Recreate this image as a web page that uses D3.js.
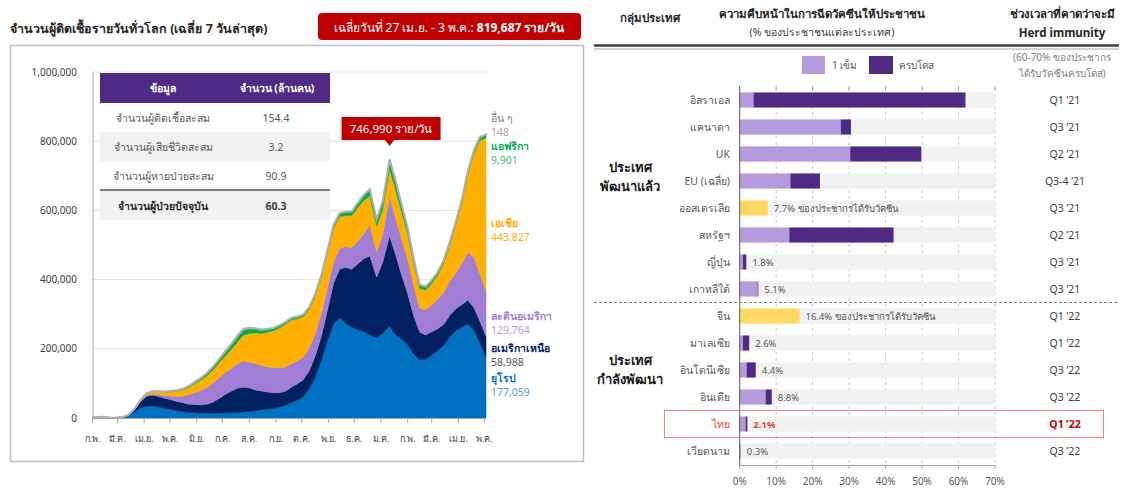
<!DOCTYPE html>
<html>
<head>
<meta charset="utf-8">
<script src="https://cdn.jsdelivr.net/npm/d3@7"></script>
<style>
  body { margin: 0; background: #fff; }
  svg { font-family: "Noto Sans", Tahoma, sans-serif; }
</style>
</head>
<body>
<svg id="chart" width="1124" height="489"></svg>
<script>
// ---- data: global daily cases, 7-day average (thousand cases/day) ----
const dates = [
  "2020-02-01","2020-02-08","2020-02-15","2020-02-22","2020-02-29","2020-03-07","2020-03-14","2020-03-21",
  "2020-03-28","2020-04-04","2020-04-11","2020-04-18","2020-04-25","2020-05-02","2020-05-09","2020-05-16",
  "2020-05-23","2020-05-30","2020-06-06","2020-06-13","2020-06-20","2020-06-27","2020-07-04","2020-07-11",
  "2020-07-18","2020-07-25","2020-08-01","2020-08-08","2020-08-15","2020-08-22","2020-08-29","2020-09-05",
  "2020-09-12","2020-09-19","2020-09-26","2020-10-03","2020-10-10","2020-10-17","2020-10-24","2020-10-31",
  "2020-11-07","2020-11-14","2020-11-21","2020-11-28","2020-12-05","2020-12-12","2020-12-19","2020-12-27",
  "2021-01-03","2021-01-11","2021-01-18","2021-01-25","2021-02-01","2021-02-08","2021-02-15","2021-02-22",
  "2021-03-01","2021-03-08","2021-03-15","2021-03-22","2021-03-29","2021-04-05","2021-04-12","2021-04-19",
  "2021-04-26","2021-05-03"
];
const europe = [0,0,0,0,0.2,1.5,7,18, 30,34,35,32,28,25,21,19, 16,15,14,14,14,14,15,15, 16,17,19,21,24,26,28,31,
  37,45,52,62,85,120,168,225, 272,290,275,262,255,250,240,232, 245,265,240,228,212,185,168,170,
  182,195,210,235,252,262,272,252, 216,177.059];
const northAmerica = [0,0,0,0,0,0.1,1,6, 18,29,31,30,29,28,27,25, 24,24,24,26,32,42,53,62, 70,72,68,60,54,49,45,42,
  40,44,47,49,53,61,70,88, 118,140,160,168,190,210,228,175, 205,262,232,185,148,110,80,70,
  67,63,61,62,64,66,68,67, 63,58.988];
const latinAmerica = [0,0,0,0,0,0,0.1,0.5, 1.5,2.5,3.5,5,7,10,14,20, 27,35,42,48,55,60,63,66, 70,76,75,77,74,73,72,72,
  70,68,66,66,65,65,66,64, 62,60,60,62,66,72,90,73, 80,113,106,104,100,88,70,72,
  78,85,92,98,103,118,140,145, 138,129.764];
const asia = [2,3,3.5,1,1,1.5,1.5,2, 3.5,5,7,9,11,13,15,17, 21,25,30,34,38,43,48,55, 63,74,82,88,92,100,107,115,
  124,126,122,116,112,108,104,101, 97,92,90,93,97,96,84,74, 72,80,82,78,72,64,56,58,
  62,70,85,105,140,175,225,300, 385,443.827];
const africa = [0,0,0,0,0,0,0.1,0.3, 0.5,0.8,1,1.3,1.8,2.3,3,3.5, 4.5,5.5,6.5,8,9.5,11,13,15, 17,17,16,13,11,9,8,7.5,
  7,6.5,6.5,6.5,6.5,7,7.5,8, 9,10,11,12,14,16,19,20, 24,26.8,26,22,18,14,11,10,
  9.5,9,9,9,9.5,10,10,10.5, 10,9.901];
const others = [0,0,0,0,0,0,0.1,0.2, 0.4,0.4,0.3,0.2,0.1,0.1,0.1,0.1, 0.1,0.1,0.1,0.1,0.1,0.1,0.2,0.3, 0.4,0.5,0.6,0.6,0.5,0.4,0.3,0.2,
  0.1,0.1,0.1,0.1,0.1,0.1,0.1,0.1, 0.1,0.1,0.1,0.1,0.1,0.1,0.1,0.1, 0.1,0.19,0.1,0.1,0.1,0.1,0.1,0.1,
  0.1,0.1,0.1,0.1,0.1,0.1,0.1,0.1, 0.1,0.148];

const regionNames = ["ยุโรป", "อเมริกาเหนือ", "ละตินอเมริกา", "เอเชีย", "แอฟริกา", "อื่น ๆ"];
const regionColors = ["#0070C0", "#002060", "#A17DD4", "#FFB000", "#00B050", "#A6A6A6"];
const monthLabels = ["ก.พ.","มี.ค.","เม.ย.","พ.ค.","มิ.ย.","ก.ค.","ส.ค.","ก.ย.","ต.ค.","พ.ย.","ธ.ค.","ม.ค.","ก.พ.","มี.ค.","เม.ย.","พ.ค."];
const yTicks = [0, 200000, 400000, 600000, 800000, 1000000];

const tableHead = ["ข้อมูล", "จำนวน (ล้านคน)"];
const tableItems = ["จำนวนผู้ติดเชื้อสะสม", "จำนวนผู้เสียชีวิตสะสม", "จำนวนผู้หายป่วยสะสม", "จำนวนผู้ป่วยปัจจุบัน"];
const tableValues = ["154.4", "3.2", "90.9", "60.3"];

// ---- data: vaccination progress (% of population) ----
const countries = ["อิสราเอล","แคนาดา","UK","EU (เฉลี่ย)","ออสเตรเลีย","สหรัฐฯ","ญี่ปุ่น","เกาหลีใต้",
  "จีน","มาเลเซีย","อินโดนีเซีย","อินเดีย","ไทย","เวียดนาม"];
const oneDose  = [3.8, 27.7, 30.3, 13.9, 0, 13.6, 0.9, 4.9, 0, 0.9, 1.9, 7.1, 1.6, 0.3];
const fullDose = [58.1, 2.8, 19.5, 8.1, 0, 28.6, 0.9, 0.2, 0, 1.7, 2.5, 1.7, 0.5, 0];
const anyDose  = [0, 0, 0, 0, 7.7, 0, 0, 0, 16.4, 0, 0, 0, 0, 0];
const barNotes = ["", "", "", "", "7.7% ของประชากรได้รับวัคซีน", "", "1.8%", "5.1%",
  "16.4% ของประชากรได้รับวัคซีน", "2.6%", "4.4%", "8.8%", "2.1%", "0.3%"];
const herdTiming = ["Q1 ’21","Q3 ’21","Q2 ’21","Q3-4 ’21","Q3 ’21","Q2 ’21","Q3 ’21","Q3 ’21",
  "Q1 ’22","Q1 ’22","Q3 ’22","Q3 ’22","Q1 ’22","Q3 ’22"];
const pctTicks = [0, 10, 20, 30, 40, 50, 60, 70];

const svg = d3.select("#chart");
const parse = d3.timeParse("%Y-%m-%d");

// ================= left panel =================
svg.append("text").attr("x", 10).attr("y", 33)
  .attr("font-size", 12.5).attr("font-weight", "bold").attr("fill", "#262626")
  .text("จำนวนผู้ติดเชื้อรายวันทั่วโลก (เฉลี่ย 7 วันล่าสุด)");

svg.append("rect").attr("x", 318).attr("y", 13).attr("width", 263).attr("height", 27)
  .attr("rx", 4).attr("fill", "#C00000");
const badge = svg.append("text").attr("x", 449).attr("y", 31.5).attr("text-anchor", "middle")
  .attr("font-size", 12).attr("fill", "#fff");
badge.append("tspan").text("เฉลี่ยวันที่ 27 เม.ย. - 3 พ.ค.: ");
badge.append("tspan").attr("font-weight", "bold").text("819,687 ราย/วัน");

svg.append("rect").attr("x", 10.5).attr("y", 45.5).attr("width", 573).attr("height", 416)
  .attr("fill", "none").attr("stroke", "#BFBFBF").attr("stroke-width", 1.5);

const x = d3.scaleTime().domain([new Date(2020, 1, 1), new Date(2021, 4, 1)]).range([92.5, 484.3]);
const y = d3.scaleLinear().domain([0, 1000000]).range([418, 72]);

// gridlines + y labels
svg.append("g").selectAll("line").data(yTicks.slice(1)).join("line")
  .attr("x1", 93).attr("x2", 487).attr("y1", d => y(d)).attr("y2", d => y(d))
  .attr("stroke", "#E3E3E3").attr("stroke-width", 1);
svg.append("g").selectAll("text").data(yTicks).join("text")
  .attr("x", 77).attr("y", d => y(d) + 3.5).attr("text-anchor", "end")
  .attr("font-size", 10).attr("fill", "#404040").text(d3.format(","));

// stacked area
const rows = dates.map((d, i) => ({
  date: parse(d),
  s0: europe[i] * 1000, s1: northAmerica[i] * 1000, s2: latinAmerica[i] * 1000,
  s3: asia[i] * 1000, s4: africa[i] * 1000, s5: others[i] * 1000
}));
const keys = ["s0", "s1", "s2", "s3", "s4", "s5"];
const series = d3.stack().keys(keys)(rows);
const area = d3.area().x(d => x(d.data.date)).y0(d => y(d[0])).y1(d => y(d[1]));
svg.append("g").selectAll("path").data(series).join("path")
  .attr("d", area)
  .attr("fill", (d, i) => regionColors[i])
  .attr("stroke", (d, i) => i === 5 ? "#B0B0B0" : regionColors[i])
  .attr("stroke-width", (d, i) => i === 5 ? 2 : 0.5);

// axes lines
svg.append("line").attr("x1", 93).attr("x2", 93).attr("y1", 72).attr("y2", 418)
  .attr("stroke", "#A6A6A6");
svg.append("line").attr("x1", 93).attr("x2", 486).attr("y1", 418.5).attr("y2", 418.5)
  .attr("stroke", "#A6A6A6");
const monthTicks = d3.timeMonth.range(new Date(2020, 1, 1), new Date(2021, 4, 2));
svg.append("g").selectAll("line").data(monthTicks).join("line")
  .attr("x1", d => x(d)).attr("x2", d => x(d)).attr("y1", 418).attr("y2", 423)
  .attr("stroke", "#A6A6A6");
svg.append("g").selectAll("text").data(monthTicks).join("text")
  .attr("x", d => x(d)).attr("y", 442).attr("text-anchor", "middle")
  .attr("font-size", 9).attr("fill", "#404040")
  .text((d, i) => monthLabels[i]);

// peak annotation
const totals = rows.map(r => keys.reduce((s, k) => s + r[k], 0));
const peakIdx = d3.maxIndex(totals.slice(0, 55));
const px = x(rows[peakIdx].date);
svg.append("rect").attr("x", px - 48).attr("y", 117).attr("width", 99).attr("height", 23)
  .attr("fill", "#C00000");
svg.append("path").attr("d", `M${px - 5},139.5 L${px},146 L${px + 5},139.5 Z`).attr("fill", "#C00000");
svg.append("text").attr("x", px + 1.5).attr("y", 132.5).attr("text-anchor", "middle")
  .attr("font-size", 11.5).attr("fill", "#fff")
  .text(d3.format(",")(Math.round(totals[peakIdx])) + " ราย/วัน");

// series end labels (name above value)
const nameY = [382, 352, 320, 227, 150, 122];
const valColors = ["#5B9BD5", "#595959", "#B49BDC", "#FFB000", "#3DC47E", "#A6A6A6"];
const nameColors = ["#0070C0", "#002060", "#A17DD4", "#FFA800", "#00B050", "#7F7F7F"];
const lastVals = [europe, northAmerica, latinAmerica, asia, africa, others].map(a => a[a.length - 1] * 1000);
regionNames.forEach((n, i) => {
  svg.append("text").attr("x", 491).attr("y", nameY[i]).attr("font-size", 10.5)
    .attr("font-weight", i === 5 ? "normal" : "bold").attr("fill", nameColors[i])
    .text(n);
  svg.append("text").attr("x", 491).attr("y", nameY[i] + 13.5).attr("font-size", 10.5)
    .attr("fill", valColors[i]).text(d3.format(",")(Math.round(lastVals[i])));
});

// info table
const tb = svg.append("g");
tb.append("rect").attr("x", 100).attr("y", 73).attr("width", 230).attr("height", 30).attr("fill", "#4E2A84");
tb.append("text").attr("x", 163).attr("y", 92).attr("text-anchor", "middle").attr("font-size", 10.5)
  .attr("font-weight", "bold").attr("fill", "#fff").text(tableHead[0]);
tb.append("text").attr("x", 277).attr("y", 92).attr("text-anchor", "middle").attr("font-size", 10.5)
  .attr("font-weight", "bold").attr("fill", "#fff").text(tableHead[1]);
const rowTop = [103, 132, 161, 191];
tableItems.forEach((t, i) => {
  tb.append("rect").attr("x", 100).attr("y", rowTop[i]).attr("width", 230).attr("height", 29)
    .attr("fill", i % 2 === 1 ? "#F2F2F2" : "#fff");
  const last = i === 3;
  tb.append("text").attr("x", 163).attr("y", rowTop[i] + 19).attr("text-anchor", "middle")
    .attr("font-size", 10.5).attr("font-weight", last ? "bold" : "normal")
    .attr("fill", last ? "#262626" : "#595959").text(t);
  tb.append("text").attr("x", 276).attr("y", rowTop[i] + 19).attr("text-anchor", "middle")
    .attr("font-size", 10.5).attr("font-weight", last ? "bold" : "normal")
    .attr("fill", last ? "#404040" : "#595959").text(tableValues[i]);
});
tb.append("line").attr("x1", 100).attr("x2", 330).attr("y1", 190).attr("y2", 190)
  .attr("stroke", "#808080").attr("stroke-width", 2);

// ================= right panel =================
const hx = [650, 822, 1062];
svg.append("text").attr("x", hx[0]).attr("y", 22).attr("text-anchor", "middle").attr("font-size", 11.5)
  .attr("font-weight", "bold").attr("fill", "#262626").text("กลุ่มประเทศ");
svg.append("text").attr("x", hx[1]).attr("y", 18).attr("text-anchor", "middle").attr("font-size", 11.5)
  .attr("font-weight", "bold").attr("fill", "#262626").text("ความคืบหน้าในการฉีดวัคซีนให้ประชาชน");
svg.append("text").attr("x", hx[1]).attr("y", 36).attr("text-anchor", "middle").attr("font-size", 10.5)
  .attr("fill", "#404040").text("(% ของประชาชนแต่ละประเทศ)");
svg.append("text").attr("x", hx[2]).attr("y", 18).attr("text-anchor", "middle").attr("font-size", 11.5)
  .attr("font-weight", "bold").attr("fill", "#262626").text("ช่วงเวลาที่คาดว่าจะมี");
svg.append("text").attr("x", hx[2]).attr("y", 37).attr("text-anchor", "middle").attr("font-size", 11.5)
  .attr("font-weight", "bold").attr("fill", "#262626").text("Herd immunity");
svg.append("line").attr("x1", 594).attr("x2", 1119).attr("y1", 45.5).attr("y2", 45.5)
  .attr("stroke", "#404040").attr("stroke-width", 2.5);
svg.append("line").attr("x1", 594).attr("x2", 1119).attr("y1", 49).attr("y2", 49)
  .attr("stroke", "#A6A6A6").attr("stroke-width", 1);

// legend
const doseColors = ["#B49BDC", "#4E2A84"];
svg.append("rect").attr("x", 802).attr("y", 56).attr("width", 23).attr("height", 18).attr("fill", doseColors[0]);
svg.append("text").attr("x", 832).attr("y", 69).attr("font-size", 10).attr("fill", "#595959").text("1 เข็ม");
svg.append("rect").attr("x", 869).attr("y", 56).attr("width", 24).attr("height", 18).attr("fill", doseColors[1]);
svg.append("text").attr("x", 899).attr("y", 69).attr("font-size", 10).attr("fill", "#595959").text("ครบโดส");
svg.append("text").attr("x", hx[2]).attr("y", 61).attr("text-anchor", "middle").attr("font-size", 10)
  .attr("fill", "#7F7F7F").text("(60-70% ของประชากร");
svg.append("text").attr("x", hx[2]).attr("y", 77).attr("text-anchor", "middle").attr("font-size", 10)
  .attr("fill", "#7F7F7F").text("ได้รับวัคซีนครบโดส)");

const xb = d3.scaleLinear().domain([0, 70]).range([739.7, 995]);
const yb = d3.scaleBand().domain(countries).range([86.5, 464.5]).paddingInner(0.44).paddingOuter(0.22);

// gridlines
svg.append("g").selectAll("line").data(pctTicks.slice(1)).join("line")
  .attr("x1", d => xb(d)).attr("x2", d => xb(d)).attr("y1", 88).attr("y2", 465)
  .attr("stroke", "#C8C8C8").attr("stroke-dasharray", "3,3");

// background track
svg.append("g").selectAll("rect").data(countries).join("rect")
  .attr("x", xb(0)).attr("y", d => yb(d)).attr("width", xb(70) - xb(0)).attr("height", yb.bandwidth())
  .attr("fill", "#F2F2F2");

// bars
const bg = svg.append("g");
countries.forEach((c, i) => {
  if (anyDose[i] > 0) {
    bg.append("rect").attr("x", xb(0)).attr("y", yb(c)).attr("width", xb(anyDose[i]) - xb(0))
      .attr("height", yb.bandwidth()).attr("fill", "#FFD966");
  }
  bg.append("rect").attr("x", xb(0)).attr("y", yb(c)).attr("width", xb(oneDose[i]) - xb(0))
    .attr("height", yb.bandwidth()).attr("fill", doseColors[0]);
  bg.append("rect").attr("x", xb(oneDose[i])).attr("y", yb(c))
    .attr("width", xb(oneDose[i] + fullDose[i]) - xb(oneDose[i]))
    .attr("height", yb.bandwidth()).attr("fill", doseColors[1]);
  const end = Math.max(anyDose[i], oneDose[i] + fullDose[i]);
  const thai = c === "ไทย";
  bg.append("text").attr("x", xb(end) + 6).attr("y", yb(c) + yb.bandwidth() / 2 + 3.5)
    .attr("font-size", 9.5).attr("font-weight", thai ? "bold" : "normal")
    .attr("fill", thai ? "#E03C3C" : "#595959").text(barNotes[i]);
  bg.append("text").attr("x", 730).attr("y", yb(c) + yb.bandwidth() / 2 + 4).attr("text-anchor", "end")
    .attr("font-size", 10.5).attr("fill", thai ? "#E04848" : "#595959").text(c);
  bg.append("text").attr("x", 1065).attr("y", yb(c) + yb.bandwidth() / 2 + 4).attr("text-anchor", "middle")
    .attr("font-size", 10.5).attr("font-weight", thai ? "bold" : "normal")
    .attr("fill", thai ? "#C00000" : "#404040").text(herdTiming[i]);
});

// axis
svg.append("line").attr("x1", xb(0)).attr("x2", xb(0)).attr("y1", 86).attr("y2", 466)
  .attr("stroke", "#595959");
svg.append("line").attr("x1", xb(0)).attr("x2", xb(70)).attr("y1", 465.5).attr("y2", 465.5)
  .attr("stroke", "#A6A6A6");
svg.append("g").selectAll("line").data(pctTicks).join("line")
  .attr("x1", d => xb(d)).attr("x2", d => xb(d)).attr("y1", 465).attr("y2", 469).attr("stroke", "#A6A6A6");
svg.append("g").selectAll("line").data(pctTicks.slice(1)).join("line")
  .attr("x1", d => xb(d)).attr("x2", d => xb(d)).attr("y1", 86).attr("y2", 90).attr("stroke", "#A6A6A6");
svg.append("g").selectAll("text").data(pctTicks).join("text")
  .attr("x", d => xb(d)).attr("y", 485).attr("text-anchor", "middle")
  .attr("font-size", 10).attr("fill", "#595959").text(d => d + "%");

// group separator & labels
svg.append("line").attr("x1", 594).attr("x2", 1119).attr("y1", 302.5).attr("y2", 302.5)
  .attr("stroke", "#808080").attr("stroke-dasharray", "3,2");
const groups = [["ประเทศ", "พัฒนาแล้ว", 172], ["ประเทศ", "กำลังพัฒนา", 365]];
groups.forEach(g => {
  svg.append("text").attr("x", 630).attr("y", g[2]).attr("text-anchor", "middle").attr("font-size", 13)
    .attr("font-weight", "bold").attr("fill", "#1a1a1a").text(g[0]);
  svg.append("text").attr("x", 630).attr("y", g[2] + 19).attr("text-anchor", "middle").attr("font-size", 13)
    .attr("font-weight", "bold").attr("fill", "#1a1a1a").text(g[1]);
});

// highlight Thailand
svg.append("rect").attr("x", 664.5).attr("y", yb("ไทย") - 6).attr("width", 439).attr("height", yb.bandwidth() + 12)
  .attr("fill", "none").attr("stroke", "#F08080").attr("stroke-width", 1);
</script>
</body>
</html>
